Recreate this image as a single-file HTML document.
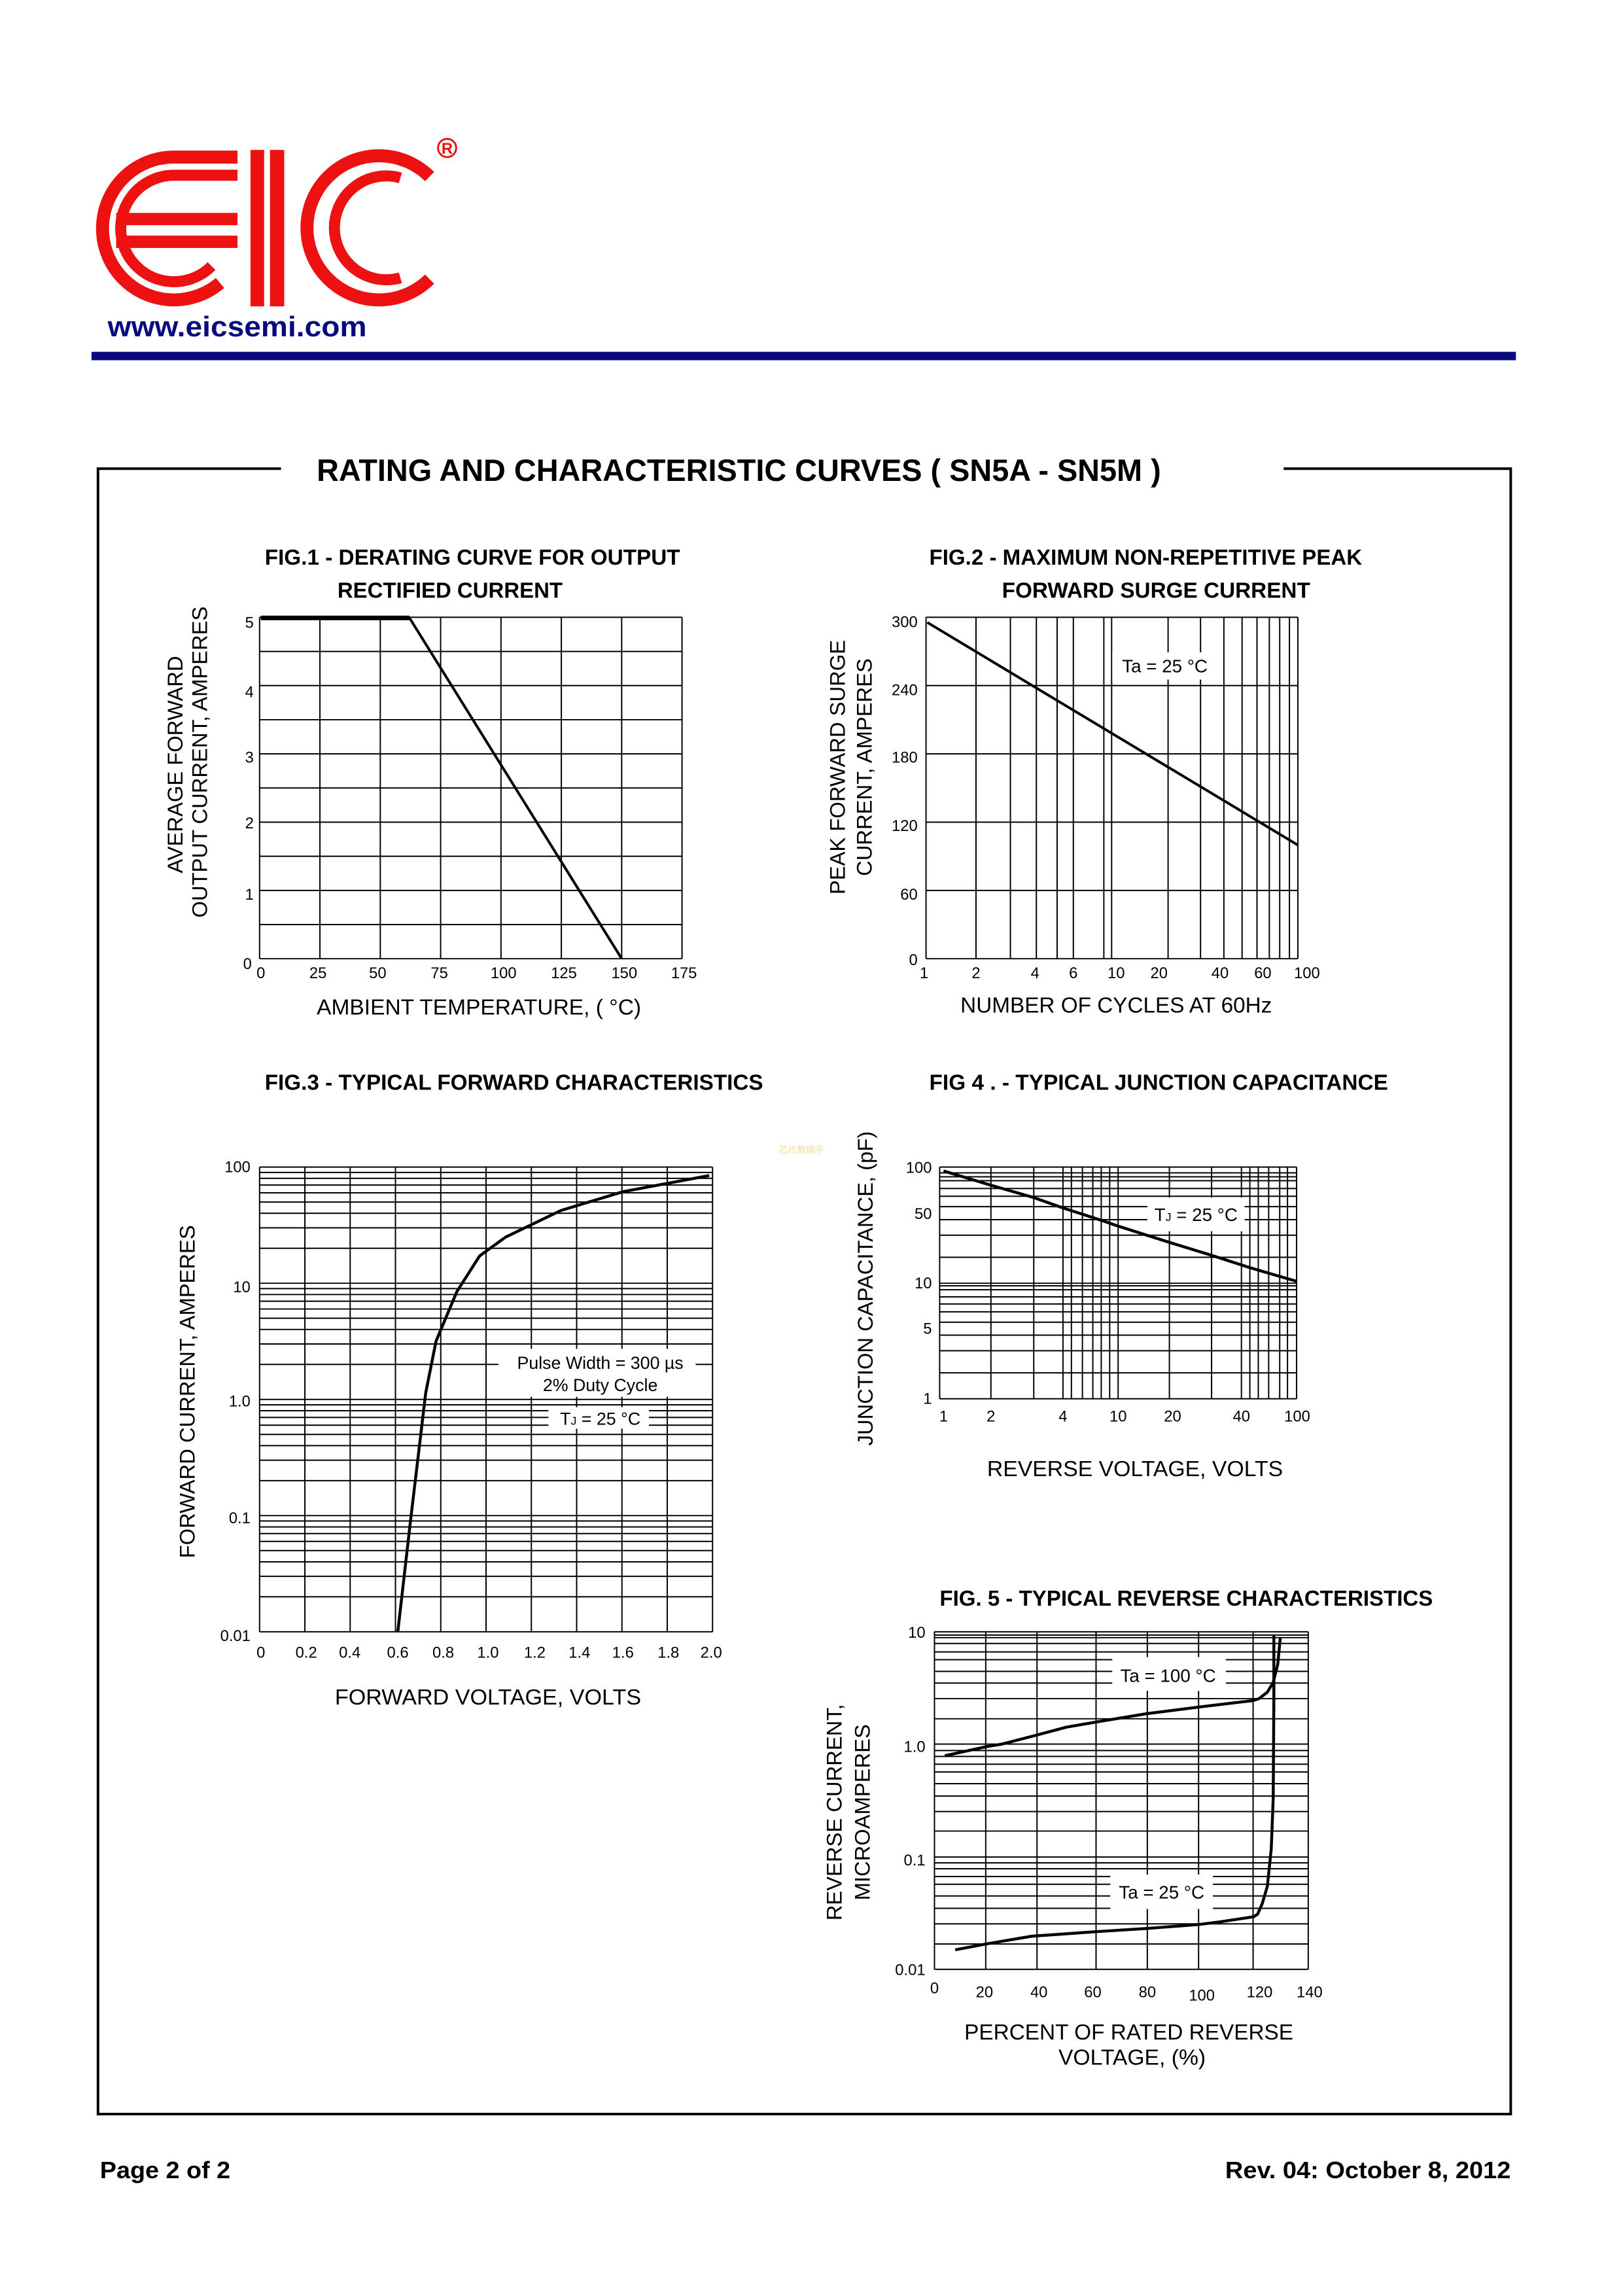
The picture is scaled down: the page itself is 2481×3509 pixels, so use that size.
<!DOCTYPE html>
<html><head><meta charset="utf-8"><style>
html,body{margin:0;padding:0;background:#fff}
svg{display:block}
text{font-family:"Liberation Sans",Arial,sans-serif;fill:#000}
.t{font-size:24px}
.b{font-weight:bold}
.g line{stroke:#000;stroke-width:2}
.c{fill:none;stroke:#000;stroke-width:5;stroke-linejoin:round;stroke-linecap:butt}
</style></head><body>
<svg width="2481" height="3509" viewBox="0 0 2481 3509" xmlns="http://www.w3.org/2000/svg">
<rect width="2481" height="3509" fill="#fff"/>
<g transform="scale(0.992)">
<!-- LOGO -->
<g fill="none" stroke="#ee1111">
<path d="M366,242 L268,242 A110,110 0 1 0 339,436" stroke-width="20"/>
<path d="M366,270 L268,270 A82,82 0 1 0 326,410" stroke-width="17"/>
<path d="M662,272 A111,111 0 1 0 662,430" stroke-width="20"/>
<path d="M617,274 A80,80 0 1 0 617,428" stroke-width="17"/>
<circle cx="689" cy="228" r="14" stroke-width="3"/>
</g>
<g fill="#ee1111">
<rect x="179" y="328" width="187" height="19"/>
<rect x="179" y="363" width="187" height="19"/>
<rect x="386" y="231" width="21" height="241"/>
<rect x="416" y="231" width="22" height="241"/>
</g>
<text x="689" y="237" font-size="24" text-anchor="middle" style="fill:#ee1111" class="b">R</text>
<text x="166" y="518" font-size="44" class="b" style="fill:#0a0a80" textLength="399" lengthAdjust="spacingAndGlyphs">www.eicsemi.com</text>
<rect x="141" y="542" width="2195" height="13" fill="#0a0a80"/>

<!-- Frame -->
<g fill="none" stroke="#000" stroke-width="4">
<path d="M433,722 L151,722 L151,3257 L2328,3257 L2328,722 L1978,722"/>
</g>
<text x="488" y="741" font-size="48" class="b" textLength="1301" lengthAdjust="spacingAndGlyphs">RATING AND CHARACTERISTIC CURVES  ( SN5A - SN5M )</text>

<!-- FIG 1 -->
<text x="408" y="870" font-size="34" class="b" textLength="640" lengthAdjust="spacingAndGlyphs">FIG.1 - DERATING CURVE FOR OUTPUT</text>
<text x="520" y="921" font-size="34" class="b" textLength="347" lengthAdjust="spacingAndGlyphs">RECTIFIED CURRENT</text>
<g class="g">
<line x1="400" y1="951" x2="400" y2="1477"/><line x1="493" y1="951" x2="493" y2="1477"/><line x1="586" y1="951" x2="586" y2="1477"/><line x1="679" y1="951" x2="679" y2="1477"/><line x1="772" y1="951" x2="772" y2="1477"/><line x1="865" y1="951" x2="865" y2="1477"/><line x1="958" y1="951" x2="958" y2="1477"/><line x1="1051" y1="951" x2="1051" y2="1477"/>
<line x1="400" y1="951" x2="1051" y2="951"/><line x1="400" y1="1003.6" x2="1051" y2="1003.6"/><line x1="400" y1="1056.2" x2="1051" y2="1056.2"/><line x1="400" y1="1108.8" x2="1051" y2="1108.8"/><line x1="400" y1="1161.4" x2="1051" y2="1161.4"/><line x1="400" y1="1214" x2="1051" y2="1214"/><line x1="400" y1="1266.6" x2="1051" y2="1266.6"/><line x1="400" y1="1319.2" x2="1051" y2="1319.2"/><line x1="400" y1="1371.8" x2="1051" y2="1371.8"/><line x1="400" y1="1424.4" x2="1051" y2="1424.4"/><line x1="400" y1="1477" x2="1051" y2="1477"/>
</g>
<path class="c" d="M402,952 L631,952 L958,1477" style="stroke-width:4"/>
<line x1="402" y1="952" x2="631" y2="952" stroke="#000" stroke-width="7"/>
<g class="t" text-anchor="middle">
<text x="402" y="1507">0</text><text x="490" y="1507">25</text><text x="582" y="1507">50</text><text x="677" y="1507">75</text><text x="776" y="1507">100</text><text x="869" y="1507">125</text><text x="962" y="1507">150</text><text x="1054" y="1507">175</text>
</g>
<g class="t" text-anchor="end">
<text x="391" y="967">5</text><text x="391" y="1074">4</text><text x="391" y="1175">3</text><text x="391" y="1276">2</text><text x="391" y="1386">1</text><text x="388" y="1493">0</text>
</g>
<text x="488" y="1563" font-size="34" textLength="500" lengthAdjust="spacingAndGlyphs">AMBIENT TEMPERATURE, ( °C)</text>
<text transform="translate(281,1178) rotate(-90)" font-size="33" text-anchor="middle">AVERAGE FORWARD</text>
<text transform="translate(319,1174) rotate(-90)" font-size="33" text-anchor="middle">OUTPUT CURRENT, AMPERES</text>

<!-- FIG 2 -->
<text x="1432" y="870" font-size="34" class="b" textLength="667" lengthAdjust="spacingAndGlyphs">FIG.2 - MAXIMUM NON-REPETITIVE PEAK</text>
<text x="1544" y="921" font-size="34" class="b" textLength="475" lengthAdjust="spacingAndGlyphs">FORWARD SURGE CURRENT</text>
<g class="g">
<line x1="1427" y1="951" x2="1427" y2="1477"/><line x1="1504" y1="951" x2="1504" y2="1477"/><line x1="1557" y1="951" x2="1557" y2="1477"/><line x1="1597" y1="951" x2="1597" y2="1477"/><line x1="1629" y1="951" x2="1629" y2="1477"/><line x1="1654" y1="951" x2="1654" y2="1477"/><line x1="1701" y1="951" x2="1701" y2="1477"/><line x1="1713" y1="951" x2="1713" y2="1477"/><line x1="1800" y1="951" x2="1800" y2="1477"/><line x1="1850" y1="951" x2="1850" y2="1477"/><line x1="1886" y1="951" x2="1886" y2="1477"/><line x1="1914" y1="951" x2="1914" y2="1477"/><line x1="1937" y1="951" x2="1937" y2="1477"/><line x1="1956" y1="951" x2="1956" y2="1477"/><line x1="1972" y1="951" x2="1972" y2="1477"/><line x1="1987" y1="951" x2="1987" y2="1477"/><line x1="2000" y1="951" x2="2000" y2="1477"/>
<line x1="1427" y1="951" x2="2000" y2="951"/><line x1="1427" y1="1056.2" x2="2000" y2="1056.2"/><line x1="1427" y1="1161.4" x2="2000" y2="1161.4"/><line x1="1427" y1="1266.6" x2="2000" y2="1266.6"/><line x1="1427" y1="1371.8" x2="2000" y2="1371.8"/><line x1="1427" y1="1477" x2="2000" y2="1477"/>
</g>
<rect x="1714" y="1005" width="158" height="42" fill="#fff"/>
<text x="1795" y="1036" font-size="28" text-anchor="middle">Ta = 25 °C</text>
<path class="c" d="M1429,959 L2000,1302" style="stroke-width:4"/>
<g class="t" text-anchor="middle">
<text x="1424" y="1507">1</text><text x="1504" y="1507">2</text><text x="1595" y="1507">4</text><text x="1654" y="1507">6</text><text x="1720" y="1507">10</text><text x="1786" y="1507">20</text><text x="1880" y="1507">40</text><text x="1946" y="1507">60</text><text x="2014" y="1507">100</text>
</g>
<g class="t" text-anchor="end">
<text x="1414" y="966">300</text><text x="1414" y="1071">240</text><text x="1414" y="1175">180</text><text x="1414" y="1280">120</text><text x="1414" y="1386">60</text><text x="1414" y="1487">0</text>
</g>
<text x="1480" y="1560" font-size="34" textLength="480" lengthAdjust="spacingAndGlyphs">NUMBER OF CYCLES AT 60Hz</text>
<text transform="translate(1302,1182) rotate(-90)" font-size="33" text-anchor="middle">PEAK FORWARD SURGE</text>
<text transform="translate(1343,1182) rotate(-90)" font-size="33" text-anchor="middle">CURRENT, AMPERES</text>

<g transform="translate(0,11)">
<!-- FIG 3 -->
<text x="408" y="1668" font-size="34" class="b" textLength="768" lengthAdjust="spacingAndGlyphs">FIG.3 - TYPICAL FORWARD CHARACTERISTICS</text>
<g class="g">
<line x1="400" y1="1787" x2="400" y2="2503"/><line x1="469.8" y1="1787" x2="469.8" y2="2503"/><line x1="539.6" y1="1787" x2="539.6" y2="2503"/><line x1="609.4" y1="1787" x2="609.4" y2="2503"/><line x1="679.2" y1="1787" x2="679.2" y2="2503"/><line x1="749" y1="1787" x2="749" y2="2503"/><line x1="818.8" y1="1787" x2="818.8" y2="2503"/><line x1="888.6" y1="1787" x2="888.6" y2="2503"/><line x1="958.4" y1="1787" x2="958.4" y2="2503"/><line x1="1028.2" y1="1787" x2="1028.2" y2="2503"/><line x1="1098" y1="1787" x2="1098" y2="2503"/>
<line x1="400" y1="2503" x2="1098" y2="2503"/><line x1="400" y1="2449.1" x2="1098" y2="2449.1"/><line x1="400" y1="2417.6" x2="1098" y2="2417.6"/><line x1="400" y1="2395.2" x2="1098" y2="2395.2"/><line x1="400" y1="2377.9" x2="1098" y2="2377.9"/><line x1="400" y1="2363.7" x2="1098" y2="2363.7"/><line x1="400" y1="2351.7" x2="1098" y2="2351.7"/><line x1="400" y1="2341.4" x2="1098" y2="2341.4"/><line x1="400" y1="2332.3" x2="1098" y2="2332.3"/>
<line x1="400" y1="2324" x2="1098" y2="2324"/><line x1="400" y1="2270.1" x2="1098" y2="2270.1"/><line x1="400" y1="2238.6" x2="1098" y2="2238.6"/><line x1="400" y1="2216.2" x2="1098" y2="2216.2"/><line x1="400" y1="2198.9" x2="1098" y2="2198.9"/><line x1="400" y1="2184.7" x2="1098" y2="2184.7"/><line x1="400" y1="2172.7" x2="1098" y2="2172.7"/><line x1="400" y1="2162.4" x2="1098" y2="2162.4"/><line x1="400" y1="2153.3" x2="1098" y2="2153.3"/>
<line x1="400" y1="2145" x2="1098" y2="2145"/><line x1="400" y1="2091.1" x2="1098" y2="2091.1"/><line x1="400" y1="2059.6" x2="1098" y2="2059.6"/><line x1="400" y1="2037.2" x2="1098" y2="2037.2"/><line x1="400" y1="2019.9" x2="1098" y2="2019.9"/><line x1="400" y1="2005.7" x2="1098" y2="2005.7"/><line x1="400" y1="1993.7" x2="1098" y2="1993.7"/><line x1="400" y1="1983.4" x2="1098" y2="1983.4"/><line x1="400" y1="1974.3" x2="1098" y2="1974.3"/>
<line x1="400" y1="1966" x2="1098" y2="1966"/><line x1="400" y1="1912.1" x2="1098" y2="1912.1"/><line x1="400" y1="1880.6" x2="1098" y2="1880.6"/><line x1="400" y1="1858.2" x2="1098" y2="1858.2"/><line x1="400" y1="1840.9" x2="1098" y2="1840.9"/><line x1="400" y1="1826.7" x2="1098" y2="1826.7"/><line x1="400" y1="1814.7" x2="1098" y2="1814.7"/><line x1="400" y1="1804.4" x2="1098" y2="1804.4"/><line x1="400" y1="1795.3" x2="1098" y2="1795.3"/>
<line x1="400" y1="1787" x2="1098" y2="1787"/>
</g>
<rect x="768" y="2067" width="304" height="74" fill="#fff"/>
<rect x="845" y="2157" width="155" height="33" fill="#fff"/>
<text x="925" y="2098" font-size="27" text-anchor="middle">Pulse Width = 300 µs</text>
<text x="925" y="2132" font-size="27" text-anchor="middle">2% Duty Cycle</text>
<text x="925" y="2184" font-size="27" text-anchor="middle">T<tspan font-size="18">J</tspan> = 25 °C</text>
<path class="c" d="M613,2503 L632,2337 L656,2135 L672,2055 L704,1979 L739,1924 L779,1895 L864,1854 L960,1825 L1093,1800" style="stroke-width:4.5"/>
<g class="t" text-anchor="end">
<text x="386" y="1795">100</text><text x="386" y="1980">10</text><text x="386" y="2156">1.0</text><text x="386" y="2336">0.1</text><text x="386" y="2517">0.01</text>
</g>
<g class="t" text-anchor="middle">
<text x="402" y="2543">0</text><text x="472" y="2543">0.2</text><text x="539" y="2543">0.4</text><text x="613" y="2543">0.6</text><text x="683" y="2543">0.8</text><text x="752" y="2543">1.0</text><text x="824" y="2543">1.2</text><text x="893" y="2543">1.4</text><text x="960" y="2543">1.6</text><text x="1030" y="2543">1.8</text><text x="1096" y="2543">2.0</text>
</g>
<text x="516" y="2615" font-size="34" textLength="472" lengthAdjust="spacingAndGlyphs">FORWARD VOLTAGE, VOLTS</text>
<text transform="translate(300,2133) rotate(-90)" font-size="33" text-anchor="middle">FORWARD CURRENT,  AMPERES</text>

<!-- FIG 4 -->
<text x="1432" y="1668" font-size="34" class="b" textLength="707" lengthAdjust="spacingAndGlyphs">FIG 4 . - TYPICAL JUNCTION CAPACITANCE</text>
<text x="1200" y="1765" font-size="14" style="fill:#f2e08a">芯片数据手</text>
<g class="g">
<line x1="1448" y1="1787" x2="1448" y2="2144"/><line x1="1527" y1="1787" x2="1527" y2="2144"/><line x1="1593" y1="1787" x2="1593" y2="2144"/><line x1="1638" y1="1787" x2="1638" y2="2144"/><line x1="1651" y1="1787" x2="1651" y2="2144"/><line x1="1668" y1="1787" x2="1668" y2="2144"/><line x1="1684" y1="1787" x2="1684" y2="2144"/><line x1="1697" y1="1787" x2="1697" y2="2144"/><line x1="1710" y1="1787" x2="1710" y2="2144"/><line x1="1723" y1="1787" x2="1723" y2="2144"/><line x1="1802" y1="1787" x2="1802" y2="2144"/><line x1="1867" y1="1787" x2="1867" y2="2144"/><line x1="1913" y1="1787" x2="1913" y2="2144"/><line x1="1926" y1="1787" x2="1926" y2="2144"/><line x1="1939" y1="1787" x2="1939" y2="2144"/><line x1="1955" y1="1787" x2="1955" y2="2144"/><line x1="1972" y1="1787" x2="1972" y2="2144"/><line x1="1984" y1="1787" x2="1984" y2="2144"/><line x1="1998" y1="1787" x2="1998" y2="2144"/>
<line x1="1448" y1="1787" x2="1998" y2="1787"/><line x1="1448" y1="1796" x2="1998" y2="1796"/><line x1="1448" y1="1802" x2="1998" y2="1802"/><line x1="1448" y1="1808" x2="1998" y2="1808"/><line x1="1448" y1="1820" x2="1998" y2="1820"/><line x1="1448" y1="1832" x2="1998" y2="1832"/><line x1="1448" y1="1848" x2="1998" y2="1848"/><line x1="1448" y1="1868" x2="1998" y2="1868"/><line x1="1448" y1="1892" x2="1998" y2="1892"/><line x1="1448" y1="1926" x2="1998" y2="1926"/><line x1="1448" y1="1966" x2="1998" y2="1966"/><line x1="1448" y1="1970" x2="1998" y2="1970"/><line x1="1448" y1="1976" x2="1998" y2="1976"/><line x1="1448" y1="1987" x2="1998" y2="1987"/><line x1="1448" y1="1998" x2="1998" y2="1998"/><line x1="1448" y1="2010" x2="1998" y2="2010"/><line x1="1448" y1="2026" x2="1998" y2="2026"/><line x1="1448" y1="2046" x2="1998" y2="2046"/><line x1="1448" y1="2070" x2="1998" y2="2070"/><line x1="1448" y1="2104" x2="1998" y2="2104"/><line x1="1448" y1="2144" x2="1998" y2="2144"/>
</g>
<rect x="1768" y="1834" width="150" height="52" fill="#fff"/>
<text x="1843" y="1870" font-size="28" text-anchor="middle">T<tspan font-size="18">J</tspan> = 25 °C</text>
<path class="c" d="M1454,1793 L1527,1815 L1593,1834 L1638,1850 L1697,1869 L1723,1878 L1802,1903 L1867,1923 L1926,1942 L1998,1963" style="stroke-width:4.5"/>
<g class="t" text-anchor="end">
<text x="1436" y="1796">100</text><text x="1436" y="1867">50</text><text x="1436" y="1974">10</text><text x="1436" y="2044">5</text><text x="1436" y="2152">1</text>
</g>
<g class="t" text-anchor="middle">
<text x="1454" y="2179">1</text><text x="1527" y="2179">2</text><text x="1638" y="2179">4</text><text x="1723" y="2179">10</text><text x="1807" y="2179">20</text><text x="1913" y="2179">40</text><text x="1999" y="2179">100</text>
</g>
<text x="1521" y="2263" font-size="34" textLength="456" lengthAdjust="spacingAndGlyphs">REVERSE VOLTAGE, VOLTS</text>
<text transform="translate(1345,1974) rotate(-90)" font-size="33" text-anchor="middle">JUNCTION CAPACITANCE, (pF)</text>

<!-- FIG 5 -->
<text x="1448" y="2463" font-size="34" class="b" textLength="760" lengthAdjust="spacingAndGlyphs">FIG. 5 - TYPICAL REVERSE CHARACTERISTICS</text>
<g class="g">
<line x1="1440" y1="2503" x2="1440" y2="3023"/><line x1="1519" y1="2503" x2="1519" y2="3023"/><line x1="1598" y1="2503" x2="1598" y2="3023"/><line x1="1689" y1="2503" x2="1689" y2="3023"/><line x1="1768" y1="2503" x2="1768" y2="3023"/><line x1="1847" y1="2503" x2="1847" y2="3023"/><line x1="1931" y1="2503" x2="1931" y2="3023"/><line x1="2016" y1="2503" x2="2016" y2="3023"/>
<line x1="1440" y1="2503" x2="2016" y2="2503"/><line x1="1440" y1="2508" x2="2016" y2="2508"/><line x1="1440" y1="2512" x2="2016" y2="2512"/><line x1="1440" y1="2521" x2="2016" y2="2521"/><line x1="1440" y1="2534" x2="2016" y2="2534"/><line x1="1440" y1="2546" x2="2016" y2="2546"/><line x1="1440" y1="2564" x2="2016" y2="2564"/><line x1="1440" y1="2582" x2="2016" y2="2582"/><line x1="1440" y1="2606" x2="2016" y2="2606"/><line x1="1440" y1="2637" x2="2016" y2="2637"/><line x1="1440" y1="2676" x2="2016" y2="2676"/><line x1="1440" y1="2686" x2="2016" y2="2686"/><line x1="1440" y1="2695" x2="2016" y2="2695"/><line x1="1440" y1="2707" x2="2016" y2="2707"/><line x1="1440" y1="2719" x2="2016" y2="2719"/><line x1="1440" y1="2737" x2="2016" y2="2737"/><line x1="1440" y1="2756" x2="2016" y2="2756"/><line x1="1440" y1="2780" x2="2016" y2="2780"/><line x1="1440" y1="2810" x2="2016" y2="2810"/><line x1="1440" y1="2850" x2="2016" y2="2850"/><line x1="1440" y1="2859" x2="2016" y2="2859"/><line x1="1440" y1="2868" x2="2016" y2="2868"/><line x1="1440" y1="2880" x2="2016" y2="2880"/><line x1="1440" y1="2892" x2="2016" y2="2892"/><line x1="1440" y1="2910" x2="2016" y2="2910"/><line x1="1440" y1="2929" x2="2016" y2="2929"/><line x1="1440" y1="2953" x2="2016" y2="2953"/><line x1="1440" y1="2984" x2="2016" y2="2984"/><line x1="1440" y1="3023" x2="2016" y2="3023"/>
</g>
<rect x="1714" y="2542" width="175" height="52" fill="#fff"/>
<rect x="1711" y="2877" width="158" height="53" fill="#fff"/>
<text x="1800" y="2580" font-size="28" text-anchor="middle">Ta = 100 °C</text>
<text x="1790" y="2914" font-size="28" text-anchor="middle">Ta = 25 °C</text>
<path class="c" d="M1456,2694 L1520,2680 L1544,2676 L1598,2662 L1643,2650 L1689,2642 L1768,2629 L1847,2619 L1931,2609 L1940,2606 L1953,2596 L1962,2581 L1969,2553 L1973,2511" style="stroke-width:4.5"/>
<path class="c" d="M1472,2993 L1519,2984 L1590,2972 L1689,2965 L1768,2960 L1847,2954 L1879,2950 L1932,2942 L1938,2938 L1945,2922 L1953,2895 L1959,2837 L1962,2759 L1963,2604 L1963,2509" style="stroke-width:4.5"/>
<g class="t" text-anchor="end">
<text x="1426" y="2512">10</text><text x="1426" y="2688">1.0</text><text x="1426" y="2863">0.1</text><text x="1426" y="3032">0.01</text>
</g>
<g class="t" text-anchor="middle">
<text x="1440" y="3060">0</text><text x="1517" y="3066">20</text><text x="1601" y="3066">40</text><text x="1684" y="3066">60</text><text x="1768" y="3066">80</text><text x="1852" y="3071">100</text><text x="1941" y="3066">120</text><text x="2018" y="3066">140</text>
</g>
<text x="1486" y="3131" font-size="34" textLength="507" lengthAdjust="spacingAndGlyphs">PERCENT OF RATED REVERSE</text>
<text x="1631" y="3170" font-size="34" textLength="227" lengthAdjust="spacingAndGlyphs">VOLTAGE, (%)</text>
<text transform="translate(1297,2781) rotate(-90)" font-size="33" text-anchor="middle">REVERSE CURRENT,</text>
<text transform="translate(1340,2781) rotate(-90)" font-size="33" text-anchor="middle">MICROAMPERES</text>
</g>

<!-- Footer -->
<text x="154" y="3356" font-size="36" class="b" textLength="201" lengthAdjust="spacingAndGlyphs">Page 2 of 2</text>
<text x="1888" y="3356" font-size="36" class="b" textLength="440" lengthAdjust="spacingAndGlyphs">Rev. 04: October 8, 2012</text>
</g>
</svg>
</body></html>
